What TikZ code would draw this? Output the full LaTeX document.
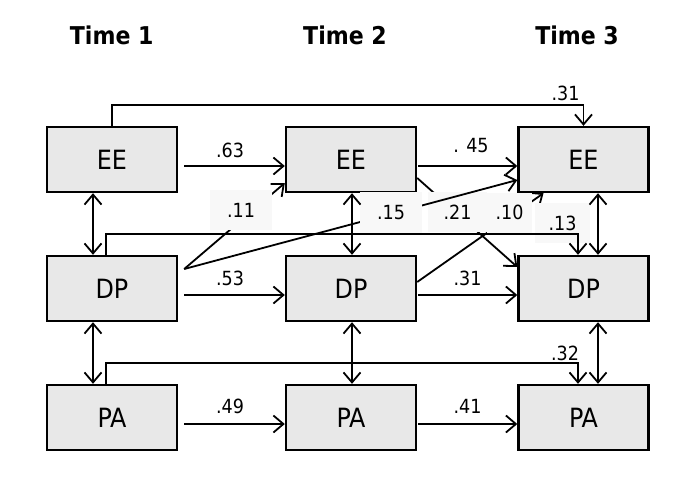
\documentclass[tikz,border=0pt]{standalone}
\usepackage{fontspec}
\setmainfont{DejaVu Sans Condensed}
\usetikzlibrary{arrows.meta}
\definecolor{boxfill}{gray}{0.91}
\definecolor{labfill}{gray}{0.972}
\begin{document}
\begin{tikzpicture}[x=1pt,y=-1pt,
  var/.style={draw, line width=2.4pt, fill=boxfill, minimum width=130pt, minimum height=65pt, inner sep=0pt, font=\fontsize{26.5}{30}\selectfont},
  arr/.style={line width=1.8pt, -{Straight Barb[length=10pt,width=17pt]}},
  darr/.style={line width=1.8pt, {Straight Barb[length=10pt,width=17pt]}-{Straight Barb[length=10pt,width=17pt]}},
  coef/.style={font=\fontsize{19.5}{22}\selectfont, inner sep=0pt},
  coefbox/.style={coef, fill=labfill, minimum height=40pt},
  title/.style={font=\bfseries\fontsize{24.5}{28}\selectfont, anchor=base, inner sep=0pt}
]
\useasboundingbox (0,0) rectangle (685,480);
% titles
\node[title] (t1) at (111.7,44.3) {Time 1};
\node[title] (t2) at (345,44.3) {Time 2};
\node[title] (t3) at (577,44.3) {Time 3};
% variables
\node[var] (EE1) at (112,159.5) {EE};
\node[var] (EE2) at (351,159.5) {EE};
\node[var] (EE3) at (583.5,159.5) {EE};
\node[var] (DP1) at (112,288.5) {DP};
\node[var] (DP2) at (351,288.5) {DP};
\node[var] (DP3) at (583.5,288.5) {DP};
\node[var] (PA1) at (112,417.5) {PA};
\node[var] (PA2) at (351,417.5) {PA};
\node[var] (PA3) at (583.5,417.5) {PA};
% cross-lagged paths (partly hidden by label boxes)
\draw[arr] ([xshift=6pt,yshift=19.5pt]DP1.east) -- ([yshift=-23.5pt]EE2.west);
\draw[arr] ([yshift=-18.5pt]EE2.east) -- ([yshift=21.5pt]DP3.west);
\draw[arr] ([yshift=6.5pt]DP2.east) -- ([xshift=-40pt]EE3.south);
\node[coefbox, minimum width=62pt] (l11) at (241,210) {.11};
\node[coefbox, minimum width=59pt] (l21) at (457.5,212) {.21};
\node[coefbox, minimum width=45pt] (l10) at (509.5,212.5) {.10};
\node[coefbox, minimum width=55pt] (l13) at (562.5,223) {.13};
\draw[arr] ([xshift=6pt,yshift=19.5pt]DP1.east) -- ([yshift=-20.5pt]EE3.west);
\node[coefbox, minimum width=62pt, minimum height=41pt] (l15) at (391,212.5) {.15};
% autoregressive paths
\draw[arr] ([xshift=6pt,yshift=-6.5pt]EE1.east) -- ([yshift=-6.5pt]EE2.west);
\draw[arr] ([xshift=1pt,yshift=-6.5pt]EE2.east) -- ([yshift=-6.5pt]EE3.west);
\draw[arr] ([xshift=6pt,yshift=-6.5pt]DP1.east) -- ([yshift=-6.5pt]DP2.west);
\draw[arr] ([xshift=1pt,yshift=-6.5pt]DP2.east) -- ([yshift=-6.5pt]DP3.west);
\draw[arr] ([xshift=6pt,yshift=-6.5pt]PA1.east) -- ([yshift=-6.5pt]PA2.west);
\draw[arr] ([xshift=1pt,yshift=-6.5pt]PA2.east) -- ([yshift=-6.5pt]PA3.west);
\node[coef] (l63) at (230,150) {.63};
\node[coef] (l45) at (471,146) {. 45};
\node[coef] (l53) at (230,278.5) {.53};
\node[coef] (l31b) at (467.5,278.5) {.31};
\node[coef] (l49) at (230,406) {.49};
\node[coef] (l41) at (467.5,406) {.41};
% correlations
\draw[darr] ([xshift=-19pt]EE1.south) -- ([xshift=-19pt]DP1.north);
\draw[darr] ([xshift=-19pt]DP1.south) -- ([xshift=-19pt]PA1.north);
\draw[darr] ([xshift=1pt]EE2.south) -- ([xshift=1pt]DP2.north);
\draw[darr] ([xshift=1pt]DP2.south) -- ([xshift=1pt]PA2.north);
\draw[darr] ([xshift=14.5pt]EE3.south) -- ([xshift=14.5pt]DP3.north);
\draw[darr] ([xshift=14.5pt]DP3.south) -- ([xshift=14.5pt]PA3.north);
% lag-2 paths
\draw[arr] (EE1.north) -- ++(0,-21) -| (EE3.north);
\draw[arr] ([xshift=-6pt]DP1.north) -- ++(0,-21) -| ([xshift=-5.5pt]DP3.north);
\draw[arr] ([xshift=-6pt]PA1.north) -- ++(0,-21) -| ([xshift=-5.5pt]PA3.north);
\node[coef] (l31a) at (565.5,93.5) {.31};
\node[coef] (l32) at (565,353.5) {.32};
\end{tikzpicture}
\end{document}
